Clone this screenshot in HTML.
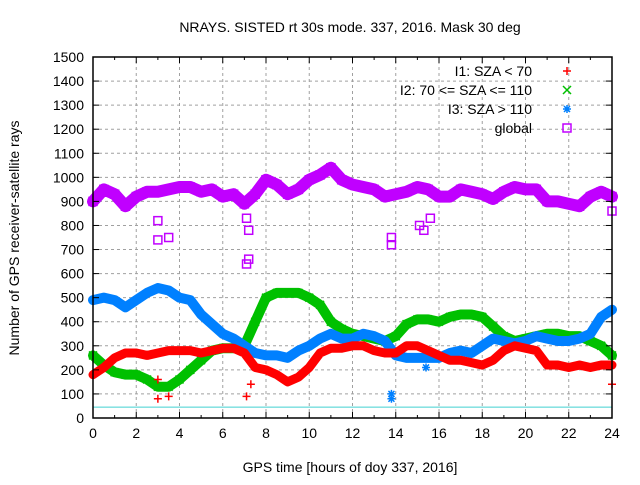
<!DOCTYPE html>
<html><head><meta charset="utf-8"><style>
body{margin:0;background:#fff;}
svg{font-family:"Liberation Sans",sans-serif;font-size:14px;}
</style></head><body>
<svg id="chart" width="640" height="480" xmlns="http://www.w3.org/2000/svg">
<rect width="640" height="480" fill="#fff"/>
<text x="350" y="32" text-anchor="middle">NRAYS. SISTED rt 30s mode. 337, 2016. Mask 30 deg</text>
<text x="350" y="472" text-anchor="middle">GPS time [hours of doy 337, 2016]</text>
<text transform="translate(19,238) rotate(-90)" text-anchor="middle">Number of GPS receiver-satellite rays</text>
<g id="grid"></g><g id="series"></g><g id="axes"></g><g id="legend"></g>
</svg>
<script>
const hours=[0,0.5,1,1.5,2,2.5,3,3.5,4,4.5,5,5.5,6,6.5,7,7.5,8,8.5,9,9.5,10,10.5,11,11.5,12,12.5,13,13.5,14,14.5,15,15.5,16,16.5,17,17.5,18,18.5,19,19.5,20,20.5,21,21.5,22,22.5,23,23.5,24];
const globalVals=[900,950,930,880,920,940,940,950,960,960,940,950,920,930,890,930,990,970,930,950,990,1010,1040,990,970,960,950,920,930,940,960,950,920,920,950,940,930,910,940,960,950,950,900,900,890,880,920,940,920];
const i3Vals=[490,500,490,460,490,520,540,530,500,490,430,390,350,330,300,270,260,260,250,280,300,330,350,330,330,350,340,320,260,250,250,250,250,270,280,270,300,330,320,310,320,340,330,320,320,330,350,420,450];
const i2Vals=[260,220,190,180,180,160,130,130,160,200,240,280,290,290,300,400,500,520,520,520,500,470,400,370,350,340,330,320,340,390,410,410,400,420,430,430,420,380,340,320,330,340,350,350,340,340,320,300,260];
const i1Vals=[180,210,250,270,270,260,270,280,280,280,270,280,290,290,270,210,200,180,150,170,210,270,290,290,300,300,280,270,270,300,300,280,260,240,240,230,220,240,280,300,290,280,220,220,210,220,210,220,220];
const i1OutX=[3,3,3.5,7.1,7.3,24];
const i1OutY=[80,160,90,90,140,140];
const gOutX=[3,3,3.5,7.1,7.2,7.2,7.1,13.8,13.8,15.1,15.3,15.6,24];
const gOutY=[740,820,750,640,660,780,830,720,750,800,780,830,860];
const i3OutX=[13.8,13.8,15.4];
const i3OutY=[80,100,210];
const xTicks=[0,2,4,6,8,10,12,14,16,18,20,22,24];
const yTicks=[0,100,200,300,400,500,600,700,800,900,1000,1100,1200,1300,1400,1500];
const refLine=45;

const X0=93,X1=612,Y0=418,Y1=57;
const xs=h=>X0+(h/24)*(X1-X0);
const ys=v=>Y0-(v/1500)*(Y0-Y1);
const NS="http://www.w3.org/2000/svg";
function mk(tag,attrs,parent){const e=document.createElementNS(NS,tag);for(const k in attrs)e.setAttribute(k,attrs[k]);parent.appendChild(e);return e;}
const grid=document.getElementById('grid'),axes=document.getElementById('axes'),ser=document.getElementById('series'),leg=document.getElementById('legend');
xTicks.forEach(t=>{
  const l=mk('line',{x1:xs(t),x2:xs(t),y1:Y0,y2:Y1,stroke:'#a0a0a0','stroke-dasharray':'3,3'},grid);
  
  
  const tx=mk('text',{x:xs(t),y:Y0+20,'text-anchor':'middle'},axes);tx.textContent=t;
  
  
  mk('line',{x1:xs(t),x2:xs(t),y1:Y0,y2:Y0-6,stroke:'#000'},axes);
  mk('line',{x1:xs(t),x2:xs(t),y1:Y1,y2:Y1+6,stroke:'#000'},axes);
  if(t<24){mk('line',{x1:xs(t+1),x2:xs(t+1),y1:Y0,y2:Y0-3,stroke:'#000'},axes);mk('line',{x1:xs(t+1),x2:xs(t+1),y1:Y1,y2:Y1+3,stroke:'#000'},axes);}
});
yTicks.forEach(t=>{
  const l=mk('line',{x1:X0,x2:X1,y1:ys(t),y2:ys(t),stroke:'#a0a0a0','stroke-dasharray':'3,3'},grid);
  
  
  const tx=mk('text',{x:X0-9,y:ys(t)+5,'text-anchor':'end'},axes);tx.textContent=t;
  
  
  mk('line',{x1:X0,x2:X0+6,y1:ys(t),y2:ys(t),stroke:'#000'},axes);
  mk('line',{x1:X1,x2:X1-6,y1:ys(t),y2:ys(t),stroke:'#000'},axes);
});
const frame=mk('rect',{x:X0,y:Y1,width:X1-X0,height:Y0-Y1,fill:'none',stroke:'#000','stroke-width':1.5},axes);


const rl=mk('line',{x1:X0,x2:X1,y1:ys(refLine),y2:ys(refLine),stroke:'#40d0d0'},ser);



function marker(type,x,y,c,g){
  if(type==='plus'){mk('path',{d:`M${x-4} ${y}H${x+4}M${x} ${y-4}V${y+4}`,stroke:c,'stroke-width':1.5,fill:'none'},g);}
  else if(type==='x'){mk('path',{d:`M${x-4} ${y-4}L${x+4} ${y+4}M${x-4} ${y+4}L${x+4} ${y-4}`,stroke:c,'stroke-width':1.5,fill:'none'},g);}
  else if(type==='star'){mk('path',{d:`M${x-4} ${y}H${x+4}M${x} ${y-4}V${y+4}M${x-3} ${y-3}L${x+3} ${y+3}M${x-3} ${y+3}L${x+3} ${y-3}`,stroke:c,'stroke-width':1.5,fill:'none'},g);}
  else {mk('rect',{x:x-4,y:y-4,width:8,height:8,stroke:c,'stroke-width':1.5,fill:'none'},g);}
}
function series(name,vals,color,type,ox,oy,w){
  const g=mk('g',{},ser);
  
  
  const pts=hours.map((h,i)=>xs(h)+','+ys(vals[i])).join(' ');
  mk('polyline',{points:pts,fill:'none',stroke:color,'stroke-width':w,'stroke-linejoin':'round','stroke-linecap':'round'},g);
  hours.forEach((h,i)=>marker(type,xs(h),ys(vals[i]),color,g));
  ox.forEach((h,i)=>marker(type,xs(h),ys(oy[i]),color,g));
}
series('series-i2',i2Vals,'#00c000','x',[],[],10);
series('series-i3',i3Vals,'#0080ff','star',i3OutX,i3OutY,10);
series('series-i1',i1Vals,'#ff0000','plus',i1OutX,i1OutY,9);
series('series-global',globalVals,'#c000ff','square',gOutX,gOutY,12);

const L=[['I1: SZA < 70','#ff0000','plus'],['I2: 70 <= SZA <= 110','#00c000','x'],['I3: SZA > 110','#0080ff','star'],['global','#c000ff','square']];
L.forEach((e,i)=>{
  const g=mk('g',{},leg);
  
  
  const y=71+i*19;
  const t=mk('text',{x:532,y:y+5,'text-anchor':'end'},g);t.textContent=e[0];
  marker(e[2],567,y,e[1],g);
});
</script>
</body></html>
